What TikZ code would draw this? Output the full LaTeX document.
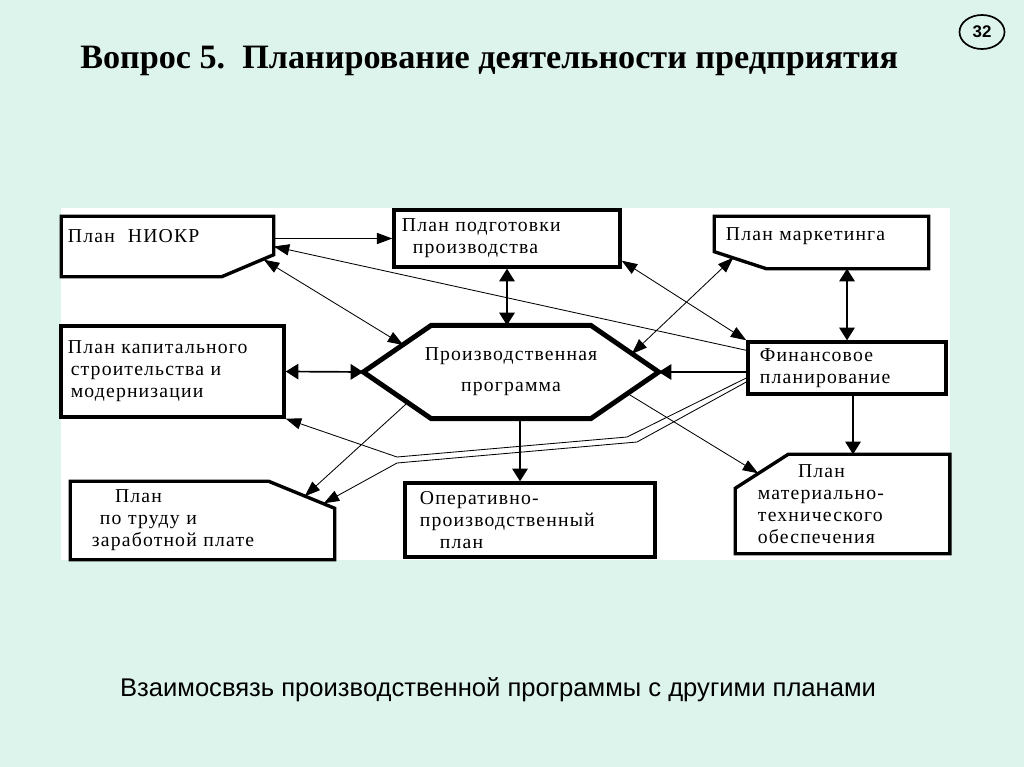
\documentclass[tikz,border=0pt]{standalone}
\usepackage{fontspec}
\setmainfont{Liberation Serif}
\setsansfont{Liberation Sans}
\newfontfamily\boxfont{Liberation Serif}[LetterSpace=6]
\usetikzlibrary{arrows.meta, positioning, shapes.geometric}
\usetikzlibrary{calc}
\definecolor{slidebg}{RGB}{221,244,237}
\tikzstyle{box} = [rectangle, draw, line width=2.4pt, inner ysep=0pt, align=left, font={\boxfont\fontsize{14}{15.6}\selectfont}]
\tikzstyle{cutbox} = [box, draw=none]
\tikzstyle{frame} = [line width=2.4pt, line join=miter]
\tikzstyle{link} = [->, >={Triangle[length=11pt,width=8pt]}, line width=0.6pt]
\tikzstyle{twoway} = [link, <->]
\tikzstyle{mainlink} = [->, >={Triangle[length=9pt,width=11pt]}, line width=1.2pt]
\tikzstyle{mainway} = [mainlink, <->]

\begin{document}
\begin{tikzpicture}[x=0.025cm, y=-0.025cm]
  % slide background and white panel
  \fill[slidebg] (0,0) rectangle (1024,767);
  \fill[white] (61,208) rectangle (950,560);

  \node (title) [anchor=base west, inner sep=0pt, font={\bfseries\fontsize{24.3}{28}\selectfont}] at (80,69) {Вопрос 5.\ \ Планирование деятельности предприятия};
  \node (pagenum) [ellipse, draw, line width=1.2pt, minimum width=1.125cm, minimum height=0.85cm, font={\sffamily\bfseries\fontsize{12}{14}\selectfont}] at (982,32) {32};

  % plans
  \node (niokr) [cutbox, minimum width=5.225cm, minimum height=1.425cm, inner xsep=3.6pt, text width=4.975cm, text depth=15.6pt] at (167.5,246.5) {План\ \ НИОКР};
  \node (podg) [box, minimum width=5.65cm, minimum height=1.425cm, inner xsep=5.7pt, text width=5.25cm] at (507,238.5) {План подготовки\\\hspace*{7.8pt}производства};
  \node (market) [cutbox, minimum width=5.275cm, minimum height=1.225cm, inner xsep=7.1pt, text width=4.775cm, text depth=12pt] at (821.5,242.5) {План маркетинга};
  \node (kapstr) [box, minimum width=5.575cm, minimum height=2.275cm, inner xsep=5pt, text width=5.225cm] at (172.5,371.5) {План капитального\\\hspace*{2pt}строительства и\\\hspace*{2pt}модернизации};
  \node (prog) [cutbox, align=center, minimum width=7.3cm, minimum height=2.25cm, inner xsep=0pt, text width=7.3cm] at (511,372) {Производственная\\[6.4pt]программа};
  \node (fin) [box, minimum width=4.95cm, minimum height=1.3cm, inner xsep=8.5pt, text width=4.35cm] at (847,368) {Финансовое\\планирование};
  \node (trud) [cutbox, minimum width=6.525cm, minimum height=1.875cm, inner xsep=14.2pt, text width=5.525cm] at (202.5,520.5) {\hspace*{16.4pt}План\\\hspace*{5.7pt}по труду и\\заработной плате};
  \node (oper) [box, minimum width=6.25cm, minimum height=1.85cm, inner xsep=10.7pt, text width=5.5cm] at (530,520) {Оперативно-\\производственный\\\hspace*{14.2pt}план};
  \node (mto) [cutbox, minimum width=5.275cm, minimum height=2.4cm, inner xsep=15pt, text width=4.225cm] at (842.5,504) {\hspace*{28.5pt}План\\материально-\\технического\\обеспечения};

  % cut corners and the hexagon
  \draw[frame] (niokr.north west) -- (niokr.north east) -- ($(niokr.south east)+(0,-22)$) -- ($(niokr.south east)+(-52,0)$) -- (niokr.south west) -- cycle;
  \draw[frame] (market.north west) -- (market.north east) -- (market.south east) -- ($(market.south west)+(52,0)$) -- ($(market.south west)+(0,-17)$) -- cycle;
  \draw[frame] (trud.north west) -- ($(trud.north east)+(-66,0)$) -- ($(trud.north east)+(0,27)$) -- (trud.south east) -- (trud.south west) -- cycle;
  \draw[frame] ($(mto.north west)+(53,0)$) -- (mto.north east) -- (mto.south east) -- (mto.south west) -- ($(mto.north west)+(0,34)$) -- cycle;
  \draw[frame, line width=3.5pt] (prog.west) -- ($(prog.north west)+(68,0)$) -- ($(prog.north east)+(-68,0)$) -- (prog.east) -- ($(prog.south east)+(-68,0)$) -- ($(prog.south west)+(68,0)$) -- cycle;

  % links
  \draw [link] (podg.west -| niokr.east) -- (podg.west);
  \draw [link] ($(fin.north west)+(0,10)$) -- (niokr.east);
  \draw [twoway] ($(niokr.south east)+(-10,-17)$) -- ($(prog.west)+(40,-27)$);
  \draw [mainway] (podg.south) -- (podg.south |- prog.north);
  \draw [twoway] ($(podg.south east)+(0,-8)$) -- (fin.north west);
  \draw [twoway] ($(prog.east)+(-27,-18)$) -- ($(market.south west)+(19,-11)$);
  \draw [mainway] (fin.north |- market.south) -- (fin.north);
  \draw [mainway] (kapstr.east) -- (prog.west);
  \draw [mainlink] (prog.east -| fin.west) -- (prog.east);
  \draw [link] ($(fin.west)+(0,10)$) -- (627,437) -- (397,457) -- (kapstr.south east);
  \draw [link] ($(fin.west)+(0,14)$) -- (637,442) -- (397,463) -- ($(trud.north east)+(-11,22)$);
  \draw [link] ($(prog.east)+(-32,21)$) -- ($(mto.north west)+(23,19)$);
  \draw [mainlink] ($(prog.south)+(9,0)$) -- ($(oper.north)+(-10,0)$);
  \draw [mainlink] ($(fin.south)+(6,0)$) -- ($(mto.north)+(10.5,0)$);
  \draw [link] ($(prog.west)+(45,30)$) -- ($(trud.north east)+(-30,15)$);

  \node (caption) [font={\sffamily\fontsize{18.2}{22}\selectfont}] at (498,690) {Взаимосвязь производственной программы с другими планами};
\end{tikzpicture}
\end{document}
